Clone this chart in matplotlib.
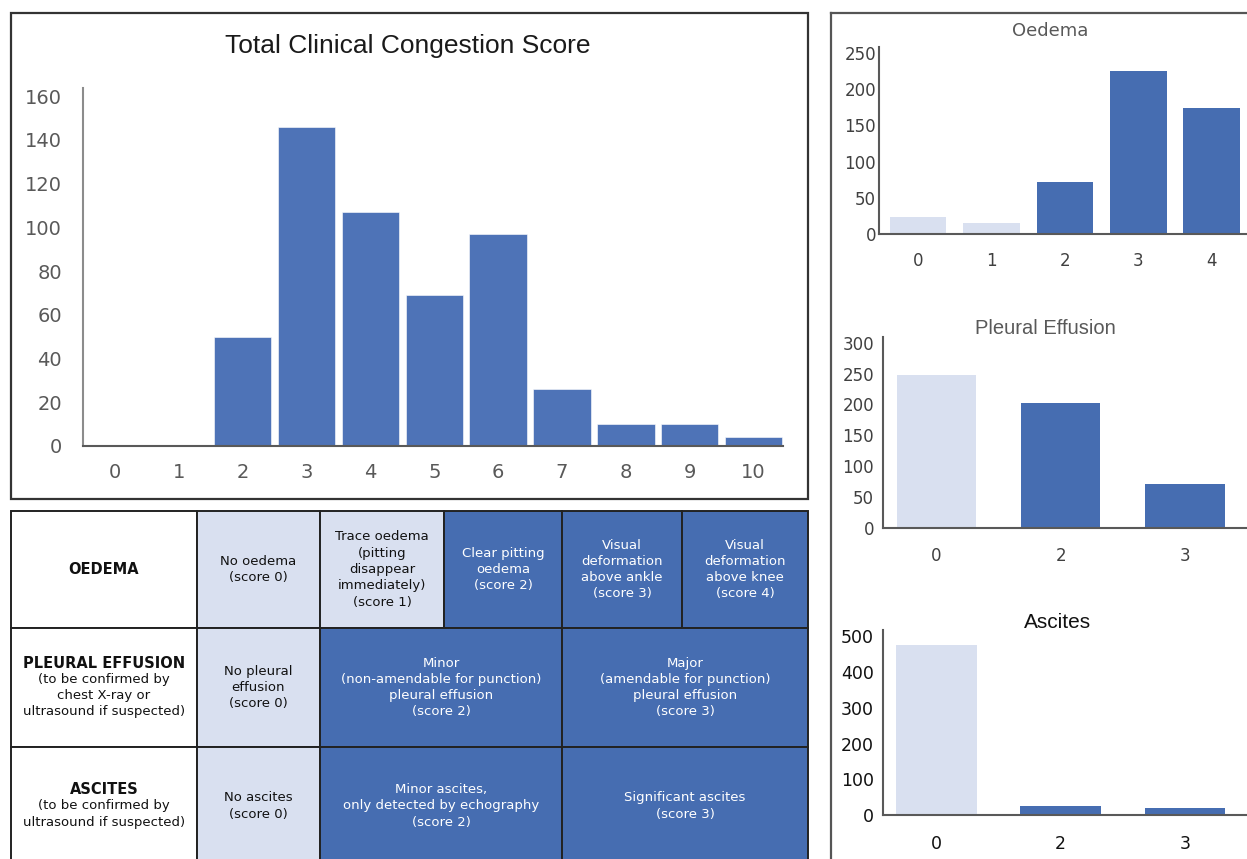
import matplotlib.pyplot as plt
from matplotlib.patches import Rectangle
from matplotlib.lines import Line2D

# counts per score
total_scores = list(range(11))
total_counts = [0, 0, 50, 146, 107, 69, 97, 26, 10, 10, 4]

oedema_scores = [0, 1, 2, 3, 4]
oedema_counts = [23, 15, 72, 225, 174]

pleural_scores = [0, 2, 3]
pleural_counts = [247, 202, 72]

ascites_scores = [0, 2, 3]
ascites_counts = [474, 25, 20]

# scoring table: (row header, sub text, [(first col, last col, text, score), ...])
table_rows = [
    ("OEDEMA", "", [
        (1, 2, "No oedema\n(score 0)", 0),
        (2, 3, "Trace oedema\n(pitting\ndisappear\nimmediately)\n(score 1)", 1),
        (3, 4, "Clear pitting\noedema\n(score 2)", 2),
        (4, 5, "Visual\ndeformation\nabove ankle\n(score 3)", 3),
        (5, 6, "Visual\ndeformation\nabove knee\n(score 4)", 4),
    ]),
    ("PLEURAL EFFUSION", "(to be confirmed by\nchest X-ray or\nultrasound if suspected)", [
        (1, 2, "No pleural\neffusion\n(score 0)", 0),
        (2, 4, "Minor\n(non-amendable for punction)\npleural effusion\n(score 2)", 2),
        (4, 6, "Major\n(amendable for punction)\npleural effusion\n(score 3)", 3),
    ]),
    ("ASCITES", "(to be confirmed by\nultrasound if suspected)", [
        (1, 2, "No ascites\n(score 0)", 0),
        (2, 4, "Minor ascites,\nonly detected by echography\n(score 2)", 2),
        (4, 6, "Significant ascites\n(score 3)", 3),
    ]),
]

DARK = "#466DB1"
MAIN = "#4E73B7"
LIGHT = "#D9E0F0"

W, H = 1247, 859
fig = plt.figure(figsize=(W / 100, H / 100), dpi=100)
fig.patch.set_facecolor("white")


def px_axes(x0, y_top, x1, y_bot):
    return fig.add_axes([x0 / W, 1 - y_bot / H, (x1 - x0) / W, (y_bot - y_top) / H])


def style_axes(ax, spine_col, tick_col, size, ypad, xpad):
    for s in ("top", "right"):
        ax.spines[s].set_visible(False)
    for s in ("left", "bottom"):
        ax.spines[s].set_color(spine_col)
        ax.spines[s].set_linewidth(1.5)
    ax.tick_params(axis="y", length=0, pad=ypad, labelsize=size, labelcolor=tick_col)
    ax.tick_params(axis="x", length=0, pad=xpad, labelsize=size, labelcolor=tick_col)


# overlay for frames and the table, in pixel units
ov = fig.add_axes([0, 0, 1, 1])
ov.set_xlim(0, W)
ov.set_ylim(H, 0)
ov.axis("off")

# main histogram
ax = px_axes(83, 88, 783, 446)
ax.bar(total_scores, total_counts, width=0.9, color=MAIN, edgecolor="white", linewidth=0.4)
ax.set_xlim(-0.5, 10.46)
ax.set_ylim(0, 163.7)
ax.set_xticks(total_scores)
ax.set_yticks(range(0, 161, 20))
style_axes(ax, "#8c8c8c", "#595959", 14, 15, 12)
ax.spines["bottom"].set_color("#595959")
fig.text(408 / W, 1 - 46 / H, "Total Clinical Congestion Score", ha="center", va="center",
         fontsize=19, family="Liberation Sans", color="#1a1a1a")
ov.add_patch(Rectangle((11, 13), 797, 486, fill=False, edgecolor="#333333", linewidth=1.6))

# right panel frame
ov.add_line(Line2D([831, 831], [13, H + 5], color="#555555", linewidth=1.6))
ov.add_line(Line2D([831, W + 5], [13, 13], color="#555555", linewidth=1.6))

# Oedema
ax1 = px_axes(879, 46.7, W, 234)
ax1.bar(oedema_scores, oedema_counts, width=0.77,
        color=[LIGHT if s <= 1 else DARK for s in oedema_scores])
ax1.set_xlim(-0.53, 4.48)
ax1.set_ylim(0, 258.7)
ax1.set_xticks(oedema_scores)
ax1.set_yticks(range(0, 251, 50))
style_axes(ax1, "#595959", "#404040", 12, 2, 13)
fig.text(1050 / W, 1 - 31 / H, "Oedema", ha="center", va="center", fontsize=13, color="#595959")

# Pleural effusion
ax2 = px_axes(883, 337.3, W, 528)
pos2 = range(len(pleural_scores))
ax2.bar(pos2, pleural_counts, width=0.64,
        color=[LIGHT if s == 0 else DARK for s in pleural_scores])
ax2.set_xlim(-0.43, 2.5)
ax2.set_ylim(0, 308.6)
ax2.set_xticks(list(pos2))
ax2.set_xticklabels([str(s) for s in pleural_scores])
ax2.set_yticks(range(0, 301, 50))
style_axes(ax2, "#595959", "#404040", 12, 6.5, 14)
fig.text(1045 / W, 1 - 328 / H, "Pleural Effusion", ha="center", va="center",
         fontsize=14.5, family="Liberation Sans", color="#595959")

# Ascites
ax3 = px_axes(883, 630, W, 815.3)
pos3 = range(len(ascites_scores))
ax3.bar(pos3, ascites_counts, width=0.65,
        color=[LIGHT if s == 0 else DARK for s in ascites_scores])
ax3.set_xlim(-0.43, 2.5)
ax3.set_ylim(0, 516.7)
ax3.set_xticks(list(pos3))
ax3.set_xticklabels([str(s) for s in ascites_scores])
ax3.set_yticks(range(0, 501, 100))
style_axes(ax3, "#595959", "#111111", 12.5, 6.5, 14)
fig.text(1058 / W, 1 - 622 / H, "Ascites", ha="center", va="center",
         fontsize=15, family="Liberation Sans", color="#111111")

# scoring table
col_x = [11, 197, 320, 444, 562, 682, 808]
row_y = [511, 628, 747, 865]
LH = 16.3


def cell_lines(x, yc, lines, color, weights):
    n = len(lines)
    for i, (ln, wt) in enumerate(zip(lines, weights)):
        y = yc + (i - (n - 1) / 2) * LH
        ov.text(x, y, ln, ha="center", va="center", color=color,
                fontsize=10.5 if wt == "bold" else 9.5, fontweight=wt)


for r, (head, sub, cells) in enumerate(table_rows):
    y0, y1 = row_y[r], row_y[r + 1]
    yc = (y0 + y1) / 2
    ov.add_patch(Rectangle((col_x[0], y0), col_x[1] - col_x[0], y1 - y0,
                           facecolor="white", edgecolor="#222222", linewidth=1.4))
    lines = [head] + (sub.split("\n") if sub else [])
    weights = ["bold"] + ["normal"] * (len(lines) - 1)
    cell_lines((col_x[0] + col_x[1]) / 2, yc, lines, "#111111", weights)
    for c0, c1, txt, score in cells:
        light = score <= 1
        ov.add_patch(Rectangle((col_x[c0], y0), col_x[c1] - col_x[c0], y1 - y0,
                               facecolor=LIGHT if light else DARK,
                               edgecolor="#222222", linewidth=1.4))
        tl = txt.split("\n")
        cell_lines((col_x[c0] + col_x[c1]) / 2, yc, tl,
                   "#111111" if light else "white", ["normal"] * len(tl))

fig.savefig("out.png", dpi=100)
